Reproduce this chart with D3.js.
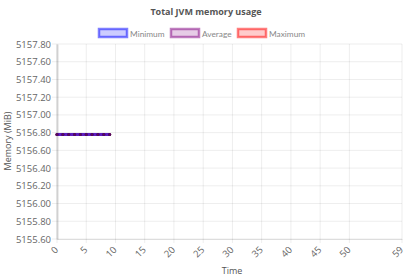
<!DOCTYPE html>
<html>
<head>
<meta charset="utf-8">
<script src="https://cdn.jsdelivr.net/npm/d3@7"></script>
<style>
  body { margin: 0; background: #fff; }
  svg { font-family: "Open Sans", "DejaVu Sans", sans-serif; }
</style>
</head>
<body>
<svg id="chart" width="412" height="278"></svg>
<script>
var timeLabels = d3.range(0, 60);
var shownTicks = [0, 5, 10, 15, 20, 25, 30, 35, 40, 45, 50, 59];
var minimumValues = [5156.78, 5156.78, 5156.78, 5156.78, 5156.78, 5156.78, 5156.78, 5156.78, 5156.78, 5156.78];
var averageValues = [5156.78, 5156.78, 5156.78, 5156.78, 5156.78, 5156.78, 5156.78, 5156.78, 5156.78, 5156.78];
var maximumValues = [5156.78, 5156.78, 5156.78, 5156.78, 5156.78, 5156.78, 5156.78, 5156.78, 5156.78, 5156.78];
var yTicks = [5155.6, 5155.8, 5156.0, 5156.2, 5156.4, 5156.6, 5156.8, 5157.0, 5157.2, 5157.4, 5157.6, 5157.8];

var series = [
    {name: "Maximum", values: maximumValues, stroke: "rgba(255,0,0,0.5)", fill: "rgba(255,0,0,0.2)"},
    {name: "Average", values: averageValues, stroke: "rgba(128,0,128,0.5)", fill: "rgba(128,0,128,0.2)"},
    {name: "Minimum", values: minimumValues, stroke: "rgba(0,0,255,0.5)", fill: "rgba(0,0,255,0.2)"}
];

var svg = d3.select("#chart");

var x = d3.scalePoint()
    .domain(timeLabels)
    .range([57, 402]);

var y = d3.scaleLinear()
    .domain([5155.6, 5157.8])
    .range([239, 44]);

// grid
svg.append("g")
    .selectAll("line")
    .data(yTicks)
    .enter().append("line")
    .attr("x1", 52).attr("x2", 402)
    .attr("y1", function (d) { return y(d); })
    .attr("y2", function (d) { return y(d); })
    .attr("stroke", "rgba(0,0,0,0.07)");

svg.append("g")
    .selectAll("line")
    .data(shownTicks)
    .enter().append("line")
    .attr("x1", function (d) { return x(d); })
    .attr("x2", function (d) { return x(d); })
    .attr("y1", 44).attr("y2", 243)
    .attr("stroke", "rgba(0,0,0,0.07)");

// axes
var yAxis = svg.append("g")
    .attr("transform", "translate(57,0)")
    .call(d3.axisLeft(y).tickValues(yTicks).tickFormat(d3.format(".2f")).tickSize(0));
yAxis.select(".domain").attr("stroke", "rgba(0,0,0,0.15)").attr("stroke-width", 2);
yAxis.selectAll("text").attr("fill", "#666").attr("font-size", 9.5).attr("x", -6)
    .attr("font-family", "\"Open Sans\", sans-serif");

var xAxis = svg.append("g")
    .attr("transform", "translate(0,239)")
    .call(d3.axisBottom(x).tickValues(shownTicks).tickSize(0));
xAxis.select(".domain").attr("stroke", "rgba(0,0,0,0.1)").attr("stroke-width", 1);
xAxis.selectAll("text")
    .attr("fill", "#666").attr("font-size", 9.5)
    .attr("font-family", "\"Open Sans\", sans-serif")
    .attr("text-anchor", "end")
    .attr("x", 0).attr("y", 0).attr("dy", "0.35em")
    .attr("transform", "translate(-1,9) rotate(-45)");

// lines
var line = d3.line()
    .x(function (d, i) { return x(timeLabels[i]); })
    .y(function (d) { return y(d); });

series.forEach(function (s) {
    svg.append("path")
        .datum(s.values)
        .attr("fill", "none")
        .attr("stroke", s.stroke)
        .attr("stroke-width", 3)
        .attr("d", line);
    svg.append("g")
        .selectAll("circle")
        .data(s.values)
        .enter().append("circle")
        .attr("cx", function (d, i) { return x(timeLabels[i]); })
        .attr("cy", function (d) { return y(d); })
        .attr("r", 1.5)
        .attr("fill", "#5a0a5a");
});

// title
svg.append("text")
    .attr("x", 206).attr("y", 15)
    .attr("text-anchor", "middle")
    .attr("font-size", 9)
    .attr("font-weight", "bold")
    .attr("fill", "#555")
    .text("Total JVM memory usage");

// legend
var legendX = [99, 171, 238];
var legend = svg.append("g")
    .selectAll("g")
    .data(series.slice().reverse())
    .enter().append("g")
    .attr("transform", function (d, i) { return "translate(" + legendX[i] + ",29)"; });

legend.append("rect")
    .attr("width", 28).attr("height", 8)
    .attr("fill", function (d) { return d.fill; })
    .attr("stroke", function (d) { return d.stroke; })
    .attr("stroke-width", 2.5);

legend.append("text")
    .attr("x", 31).attr("y", 8)
    .attr("font-size", 8.3)
    .attr("font-family", "Lato, sans-serif")
    .attr("fill", "#888")
    .text(function (d) { return d.name; });

// axis titles
svg.append("text")
    .attr("x", 232).attr("y", 274)
    .attr("text-anchor", "middle")
    .attr("font-size", 9)
    .attr("fill", "#555")
    .text("Time");

svg.append("text")
    .attr("transform", "translate(11,141) rotate(-90)")
    .attr("text-anchor", "middle")
    .attr("font-size", 9)
    .attr("fill", "#555")
    .text("Memory (MiB)");
</script>
</body>
</html>
